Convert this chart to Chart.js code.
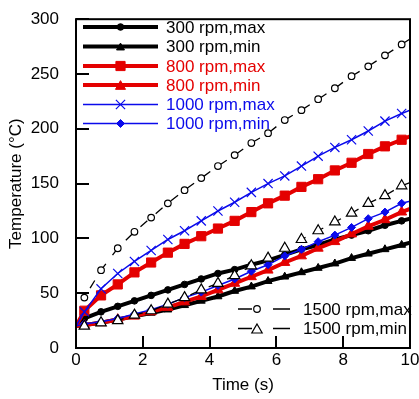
<!DOCTYPE html>
<html><head><meta charset="utf-8">
<script src="https://cdn.jsdelivr.net/npm/chart.js@4.4.0/dist/chart.umd.min.js"></script>
<style>html,body{margin:0;padding:0;background:#fff;}#wrap{position:relative;width:419px;height:399px;}</style>
</head><body><div id="wrap"><canvas id="c" width="419" height="399"></canvas></div>
<script>
// time (s): endpoints 0 and 10 carry no marker
const timeFull = [0, 0.25, 0.75, 1.25, 1.75, 2.25, 2.75, 3.25, 3.75, 4.25, 4.75, 5.25, 5.75, 6.25, 6.75, 7.25, 7.75, 8.25, 8.75, 9.25, 9.75, 10];
const xTicks = [0, 2, 4, 6, 8, 10];
const yTicks = [0, 50, 100, 150, 200, 250, 300];

const rpm300max  = [22, 27, 33, 38, 43, 48, 53, 58, 63, 68, 71.5, 76, 80, 85, 90, 94, 99, 103, 107, 112, 116, 118];
const rpm300min  = [20, 21, 23, 26, 29, 32, 35, 39, 43, 47, 52, 56, 61, 65, 69, 73, 77, 82, 86, 90, 94, 96];
const rpm800max  = [20, 34, 48, 58, 69, 78, 87, 95, 102, 109, 116, 124, 132, 139, 147, 154, 162, 169, 177, 184, 190, 193];
const rpm800min  = [20, 21, 23, 26, 29, 33, 37, 42, 47, 53, 59, 65, 71, 78, 84, 91, 97, 104, 111, 117, 124, 127];
const rpm1000max = [20, 33, 54, 68, 79, 89, 99, 107, 116, 125, 133, 142, 150, 157, 166, 175, 183, 190, 198, 207, 214, 217];
const rpm1000min = [20, 22, 24, 27, 31, 35, 40, 46, 51, 57, 63, 70, 76, 84, 90, 97, 103, 110, 118, 124, 132, 134];
const rpm1500max = [null, 46, 71, 91, 106, 119, 132, 144, 155, 166, 176, 187, 196, 208, 217, 227, 237, 248, 257, 267, 277, 282];
const rpm1500min = [null, 20, 23, 25, 30, 34, 40, 46, 53, 59, 66, 75, 82, 91, 99, 107, 115, 123, 132, 139, 148, 151];

const seriesNames = ['300 rpm,max','300 rpm,min','800 rpm,max','800 rpm,min','1000 rpm,max','1000 rpm,min','1500 rpm,max','1500 rpm,min'];

const BLACK = '#000000', RED = 'rgb(228,0,0)', BLUE = 'rgb(10,10,235)';
const FONT = '"Liberation Sans", Arial, sans-serif';

function pts(vals){ return timeFull.map((t,i)=>({x:t, y:vals[i]})); }
function rad(r){ return ctx => (ctx.raw && (ctx.raw.x === 0 || ctx.raw.x === 10)) ? 0 : r; }

const styles = [
  {vals: rpm300max,  color: BLACK, lw: 4,   ps: 'circle',   r: 3.3, fill: BLACK, pbw: 1},
  {vals: rpm300min,  color: BLACK, lw: 4,   ps: 'triangle', r: 4.6, fill: BLACK, pbw: 1},
  {vals: rpm800max,  color: RED,   lw: 4,   ps: 'rect',     r: 6.5, fill: RED,   pbw: 1},
  {vals: rpm800min,  color: RED,   lw: 4,   ps: 'triangle', r: 5.8, fill: RED,   pbw: 1},
  {vals: rpm1000max, color: BLUE,  lw: 1.5, ps: 'crossRot', r: 6.5, fill: BLUE,  pbw: 1.2},
  {vals: rpm1000min, color: BLUE,  lw: 1.5, ps: 'rectRot',  r: 4,   fill: BLUE,  pbw: 1},
  {vals: rpm1500max, color: BLACK, lw: 1.3, ps: 'circle',   r: 3.3, fill: '#fff', pbw: 1.2, dash: true},
  {vals: rpm1500min, color: BLACK, lw: 1.3, ps: 'triangle', r: 6,   fill: '#fff', pbw: 1.2, dash: true}
];

const datasets = styles.map((s,i)=>({
  label: seriesNames[i],
  data: pts(s.vals),
  borderColor: s.color,
  borderWidth: s.lw,
  backgroundColor: s.fill,
  pointStyle: s.ps,
  pointRadius: rad(s.r),
  pointBackgroundColor: s.fill,
  pointBorderColor: s.color,
  pointBorderWidth: s.pbw,
  borderDash: s.dash ? [9, 11] : [],
  borderDashOffset: s.dash ? 9 : 0,
  tension: 0,
  spanGaps: false,
  order: 7 - i
}));

function drawMarker(ctx, style, x, y, r, fill, stroke, lw){
  ctx.save();
  ctx.fillStyle = fill; ctx.strokeStyle = stroke; ctx.lineWidth = lw;
  ctx.beginPath();
  if (style === 'circle') { ctx.arc(x, y, r, 0, Math.PI*2); ctx.fill(); ctx.stroke(); }
  else if (style === 'triangle') {
    for (let k=0;k<3;k++){ const a = -Math.PI/2 + k*2*Math.PI/3; const px = x + r*Math.cos(a), py = y + r*Math.sin(a) + r*0.25; if(k===0) ctx.moveTo(px,py); else ctx.lineTo(px,py);} ctx.closePath(); ctx.fill(); ctx.stroke();
  }
  else if (style === 'rect') { const s = r*Math.SQRT1_2; ctx.rect(x-s, y-s, 2*s, 2*s); ctx.fill(); ctx.stroke(); }
  else if (style === 'rectRot') { ctx.moveTo(x, y-r); ctx.lineTo(x+r, y); ctx.lineTo(x, y+r); ctx.lineTo(x-r, y); ctx.closePath(); ctx.fill(); ctx.stroke(); }
  else if (style === 'crossRot') { const d = r*Math.SQRT1_2; ctx.moveTo(x-d,y-d); ctx.lineTo(x+d,y+d); ctx.moveTo(x+d,y-d); ctx.lineTo(x-d,y+d); ctx.stroke(); }
  ctx.restore();
}

const decor = {
  id: 'decor',
  afterDatasetsDraw(chart){
    const ctx = chart.ctx, a = chart.chartArea, xs = chart.scales.x, ys = chart.scales.y;
    ctx.save();
    // frame
    ctx.strokeStyle = '#000'; ctx.lineWidth = 2;
    ctx.strokeRect(a.left, a.top, a.right - a.left, a.bottom - a.top);
    // inward ticks
    ctx.lineWidth = 2;
    yTicks.forEach(v => { const y = Math.round(ys.getPixelForValue(v)); ctx.beginPath(); ctx.moveTo(a.left, y); ctx.lineTo(a.left + 13, y); ctx.stroke(); });
    xTicks.forEach(v => { const x = Math.round(xs.getPixelForValue(v)); ctx.beginPath(); ctx.moveTo(x, a.bottom); ctx.lineTo(x, a.bottom - 12); ctx.stroke(); });
    // axis titles
    ctx.fillStyle = '#000'; ctx.font = '17px ' + FONT; ctx.textAlign = 'center'; ctx.textBaseline = 'middle';
    ctx.fillText('Time (s)', (a.left + a.right)/2, 385);
    ctx.save(); ctx.translate(16, (a.top + a.bottom)/2); ctx.rotate(-Math.PI/2); ctx.fillText('Temperature (\u00B0C)', 0, 0); ctx.restore();
    // top-left legend
    const rowsY = [27, 46.5, 66, 85, 104.5, 123.5];
    ctx.textAlign = 'left';
    for (let i=0;i<6;i++){
      const s = styles[i], y = rowsY[i];
      ctx.strokeStyle = s.color; ctx.lineWidth = s.lw; ctx.setLineDash([]);
      ctx.beginPath(); ctx.moveTo(83, y); ctx.lineTo(158, y); ctx.stroke();
      drawMarker(ctx, s.ps, 120.5, y, s.r, s.fill, s.color, s.pbw);
      ctx.fillStyle = s.color; ctx.fillText(seriesNames[i], 166, y + 1);
    }
    // bottom-right legend
    const rows2 = [309, 328.5];
    for (let j=0;j<2;j++){
      const s = styles[6+j], y = rows2[j];
      ctx.strokeStyle = '#000'; ctx.lineWidth = 1.3;
      ctx.beginPath(); ctx.moveTo(238, y); ctx.lineTo(252, y); ctx.moveTo(273, y); ctx.lineTo(290, y); ctx.stroke();
      drawMarker(ctx, s.ps, 257, y, s.r, s.fill, '#000', s.pbw);
      ctx.fillStyle = '#000'; ctx.fillText(seriesNames[6+j], 303, y + 1);
    }
    ctx.restore();
  }
};

new Chart(document.getElementById('c'), {
  type: 'line',
  data: { datasets },
  options: {
    responsive: false, animation: false, devicePixelRatio: 1,
    layout: { padding: { left: 0, top: 15, right: 9, bottom: 0 } },
    plugins: { legend: { display: false }, tooltip: { enabled: false } },
    scales: {
      x: { type: 'linear', min: 0, max: 10,
        afterBuildTicks: s => { s.ticks = xTicks.map(v => ({value: v})); },
        ticks: { font: { size: 17, family: FONT }, color: '#000', padding: -6, maxRotation: 0, autoSkip: false },
        grid: { display: false }, border: { display: false },
        afterFit: s => { s.height = 51; } },
      y: { type: 'linear', min: 0, max: 300,
        afterBuildTicks: s => { s.ticks = yTicks.map(v => ({value: v})); },
        ticks: { font: { size: 17, family: FONT }, color: '#000', padding: 9, autoSkip: false },
        grid: { display: false }, border: { display: false },
        afterFit: s => { s.width = 76; } }
    }
  },
  plugins: [decor]
});
</script></body></html>
